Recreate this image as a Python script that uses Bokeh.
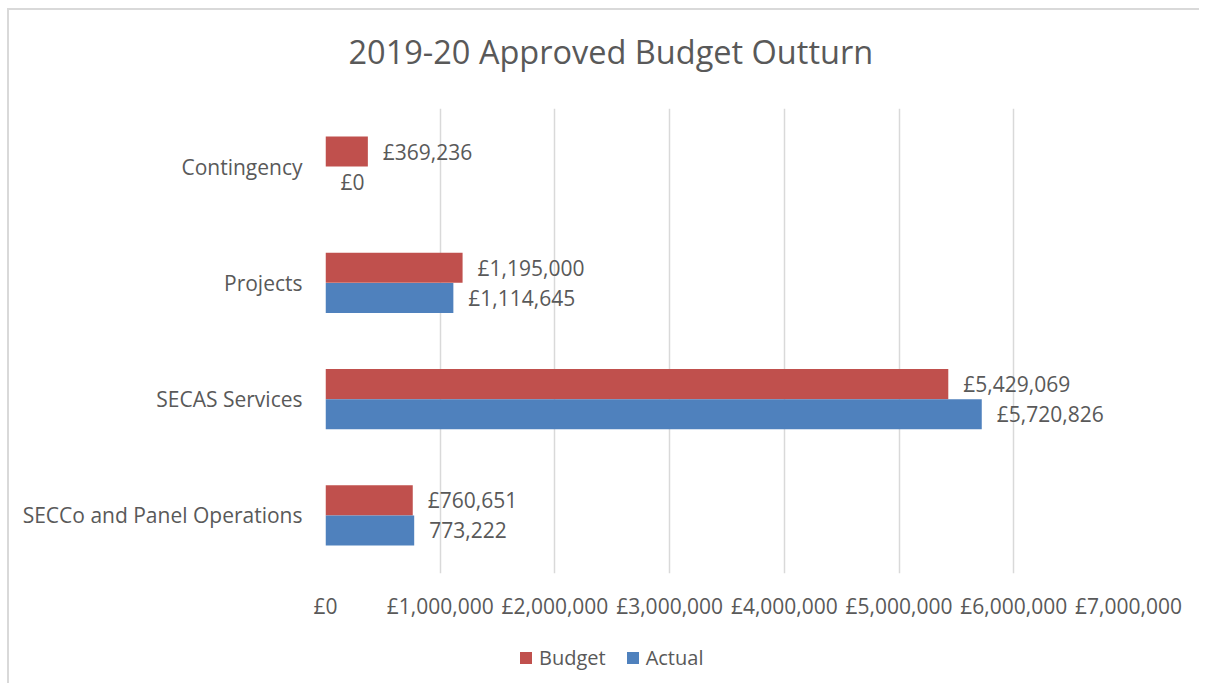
from bokeh.plotting import figure
from bokeh.layouts import column
from bokeh.models import (ColumnDataSource, FactorRange, Range1d, FixedTicker,
                          LabelSet, Legend, LegendItem, Title)
from bokeh.core.properties import value
from bokeh.transform import dodge
from bokeh.embed import file_html
from bokeh.resources import INLINE

# ---- data (bottom to top) ----
categories = ["SECCo and Panel Operations", "SECAS Services", "Projects", "Contingency"]
budget = [760651, 5429069, 1195000, 369236]
actual = [773222, 5720826, 1114645, 0]
budget_labels = ["£760,651", "£5,429,069", "£1,195,000", "£369,236"]
actual_labels = ["773,222", "£5,720,826", "£1,114,645", "£0"]
series_names = ["Budget", "Actual"]
x_ticks = [0, 1000000, 2000000, 3000000, 4000000, 5000000, 6000000, 7000000]
x_tick_labels = ["£0", "£1,000,000", "£2,000,000", "£3,000,000", "£4,000,000",
                 "£5,000,000", "£6,000,000", "£7,000,000"]
chart_title = "2019-20 Approved Budget Outturn"

RED = "#C0504D"
BLUE = "#4F81BD"
TXT = "#595959"
FONT = "Open Sans"

src = ColumnDataSource(dict(cat=categories, budget=budget, actual=actual,
                            blab=budget_labels, alab=actual_labels))

# title strip
tf = figure(width=1190, height=98, output_backend="svg", toolbar_location=None,
            x_range=Range1d(0, 1), y_range=Range1d(0, 1),
            x_axis_type=None, y_axis_type=None,
            min_border_left=0, min_border_right=0, min_border_top=0,
            min_border_bottom=0)
tf.outline_line_color = None
tf.grid.visible = False
tf.add_layout(Title(text=chart_title, text_font=FONT,
                    text_font_size="32.5px", text_font_style="normal",
                    text_color=TXT, align="left", offset=23, standoff=37,
                    vertical_align="top"), "above")

# main chart
p = figure(width=1190, height=515, output_backend="svg", toolbar_location=None,
           y_range=FactorRange(*categories), x_range=Range1d(0, 7000000),
           min_border_left=316, min_border_right=71, min_border_top=0,
           min_border_bottom=50)
p.outline_line_color = None
p.background_fill_color = "white"
p.border_fill_color = "white"

bw = 0.26
rb = p.hbar(y=dodge("cat", bw / 2, range=p.y_range), right="budget", left=0,
            height=bw, source=src, fill_color=RED, line_color=None)
ra = p.hbar(y=dodge("cat", -bw / 2, range=p.y_range), right="actual", left=0,
            height=bw, source=src, fill_color=BLUE, line_color=None)

lb = LabelSet(x="budget", y=dodge("cat", bw / 2, range=p.y_range), text="blab",
              source=src, x_offset=15, text_baseline="middle",
              text_font=value(FONT), text_font_size=value("21px"), text_color=TXT)
la = LabelSet(x="actual", y=dodge("cat", -bw / 2, range=p.y_range), text="alab",
              source=src, x_offset=15, text_baseline="middle",
              text_font=value(FONT), text_font_size=value("21px"), text_color=TXT)
p.add_layout(lb)
p.add_layout(la)

# axes
p.xaxis.ticker = FixedTicker(ticks=x_ticks)
p.xaxis.major_label_overrides = {t: l for t, l in zip(x_ticks, x_tick_labels)}
p.xaxis.axis_line_color = None
p.xaxis.major_tick_line_color = None
p.xaxis.minor_tick_line_color = None
p.xaxis.major_label_standoff = 12
p.xaxis.major_label_text_font = FONT
p.xaxis.major_label_text_font_size = "21px"
p.xaxis.major_label_text_color = TXT

p.yaxis.axis_line_color = None
p.yaxis.major_tick_line_color = None
p.yaxis.minor_tick_line_color = None
p.yaxis.major_label_standoff = 17
p.yaxis.major_label_text_font = FONT
p.yaxis.major_label_text_font_size = "21px"
p.yaxis.major_label_text_color = TXT

p.xgrid.grid_line_color = "#d9d9d9"
p.xgrid.grid_line_width = 1.5
p.xgrid.ticker = FixedTicker(ticks=x_ticks)
p.ygrid.grid_line_color = None

# legend strip below the chart
lf = figure(width=1190, height=60, output_backend="svg", toolbar_location=None,
            x_range=Range1d(0, 1), y_range=Range1d(0, 1),
            x_axis_type=None, y_axis_type=None,
            min_border_left=0, min_border_right=0, min_border_top=0,
            min_border_bottom=0)
lf.outline_line_color = None
lf.grid.visible = False
key_src = ColumnDataSource(dict(y=[0.5], left=[0], right=[0]))
kb = lf.hbar(y="y", left="left", right="right", height=0.0, source=key_src,
             fill_color=RED, line_color=None)
ka = lf.hbar(y="y", left="left", right="right", height=0.0, source=key_src,
             fill_color=BLUE, line_color=None)
legend = Legend(items=[LegendItem(label=series_names[0], renderers=[kb]),
                       LegendItem(label=series_names[1], renderers=[ka])],
                orientation="horizontal", location=(193, 12),
                glyph_width=15, glyph_height=15, label_standoff=6, spacing=19,
                padding=0, margin=0, border_line_color=None,
                background_fill_alpha=0,
                label_text_font=FONT, label_text_font_size="20px",
                label_text_color=TXT)
lf.add_layout(legend)

layout = column(tf, p, lf, spacing=0)
layout.styles = {"margin-left": "7px", "margin-top": "8px",
                 "border-left": "2px solid #d9d9d9", "border-top": "2px solid #d9d9d9"}

open("out.html", "w").write(file_html(layout, INLINE))
